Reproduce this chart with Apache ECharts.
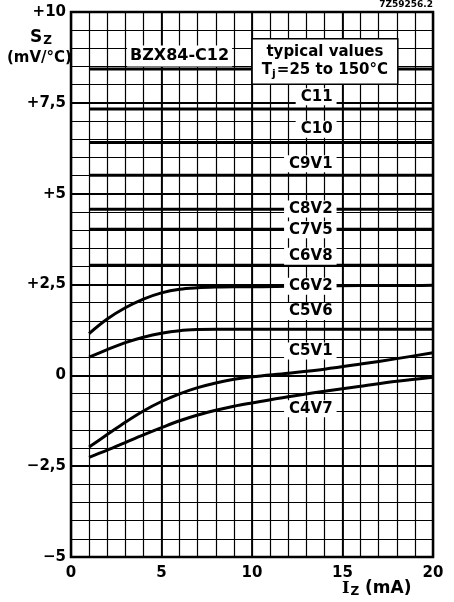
<!DOCTYPE html>
<html>
<head>
<meta charset="utf-8">
<script src="https://cdn.jsdelivr.net/npm/echarts@6/dist/echarts.min.js"></script>
<style>
html,body{margin:0;padding:0;background:#fff;}
#chart{width:454px;height:602px;}
</style>
</head>
<body>
<div id="chart"></div>
<script>
// ---- data ----
const flatCurrents = [1, 20];
const flatNames = ['C12', 'C11', 'C10', 'C9V1', 'C8V2', 'C7V5', 'C6V8'];
const flatValues = [8.43, 7.33, 6.41, 5.51, 4.57, 4.02, 3.03];

const curveCurrents = [1, 2, 3, 4, 5, 6, 7, 8, 9, 10, 12, 14, 16, 18, 20];
const c6v2 = [1.15, 1.55, 1.86, 2.10, 2.27, 2.37, 2.41, 2.43, 2.44, 2.44, 2.45, 2.46, 2.47, 2.47, 2.48];
const c5v6 = [0.50, 0.71, 0.90, 1.05, 1.16, 1.23, 1.26, 1.27, 1.27, 1.27, 1.27, 1.27, 1.27, 1.27, 1.27];
const c5v1 = [-1.97, -1.63, -1.29, -0.98, -0.72, -0.51, -0.34, -0.21, -0.11, -0.04, 0.06, 0.17, 0.31, 0.46, 0.62];
const c4v7 = [-2.26, -2.06, -1.85, -1.64, -1.44, -1.25, -1.09, -0.96, -0.85, -0.76, -0.59, -0.44, -0.30, -0.16, -0.05];

const curveLabels = ['C11', 'C10', 'C9V1', 'C8V2', 'C7V5', 'C6V8', 'C6V2', 'C5V6', 'C5V1', 'C4V7'];
const curveLabelY = [7.67, 6.77, 5.82, 4.58, 4.01, 3.28, 2.45, 1.76, 0.67, -0.92];
const curveLabelX = 14.7;

const typeLabel = 'BZX84-C12';
const typeLabelAt = [6.0, 8.79];
const noteLines = ['typical values', '{n|T}{s|j}{n|=25 to 150°C}'];
const noteAt = [14.03, 8.64];

const xTicks = [0, 5, 10, 15, 20];
const xTickLabels = ['0', '5', '10', '15', '20'];
const yTicks = [-5, -2.5, 0, 2.5, 5, 7.5, 10];
const yTickLabels = ['\u22125', '\u22122,5', '0', '+2,5', '+5', '+7,5', '+10'];

// ---- chart ----
const FONT = 'DejaVu Sans';
const chart = echarts.init(document.getElementById('chart'), null, {renderer: 'canvas'});

function tickText(ticks, labels) {
  return function (v) {
    for (let i = 0; i < ticks.length; i++) if (Math.abs(ticks[i] - v) < 1e-6) return labels[i];
    return '';
  };
}

const lineStyle = {color: '#000', width: 3};
const series = [];
flatNames.forEach(function (n, i) {
  series.push({
    name: n, type: 'line', xAxisIndex: 0, yAxisIndex: 0, showSymbol: false, symbol: 'none',
    lineStyle: lineStyle, z: 3,
    data: flatCurrents.map(function (x) { return [x, flatValues[i]]; })
  });
});
[['C6V2', c6v2], ['C5V6', c5v6], ['C5V1', c5v1], ['C4V7', c4v7]].forEach(function (p) {
  series.push({
    name: p[0], type: 'line', xAxisIndex: 0, yAxisIndex: 0, showSymbol: false, symbol: 'none',
    smooth: 0.35, lineStyle: lineStyle, z: 3,
    data: curveCurrents.map(function (x, k) { return [x, p[1][k]]; })
  });
});

const hiddenItem = {color: 'rgba(0,0,0,0)', opacity: 1};
const labelData = curveLabels.map(function (n, i) {
  return {value: [curveLabelX, curveLabelY[i]], name: n};
});
series.push({
  type: 'scatter', xAxisIndex: 0, yAxisIndex: 0, symbolSize: 1, z: 10,
  itemStyle: hiddenItem, emphasis: {disabled: true},
  label: {
    show: true, position: 'left', distance: 0, formatter: '{b}',
    fontFamily: FONT, fontWeight: 'bold', fontSize: 15, color: '#000', opacity: 1,
    backgroundColor: '#fff', padding: [1, 4, 0, 5], lineHeight: 16
  },
  data: labelData
});
series.push({
  type: 'scatter', xAxisIndex: 0, yAxisIndex: 0, symbolSize: 1, z: 10,
  itemStyle: hiddenItem, emphasis: {disabled: true},
  data: [
    {value: typeLabelAt, name: typeLabel,
     label: {show: true, position: 'inside', formatter: '{b}', fontFamily: FONT, fontWeight: 'bold',
             fontSize: 16, color: '#000', opacity: 1, backgroundColor: '#fff', padding: [3, 3, 2, 3]}},
    {value: noteAt, name: 'note',
     label: {show: true, position: 'inside', formatter: noteLines.join('\n'), align: 'center',
             fontFamily: FONT, fontWeight: 'bold', fontSize: 15, color: '#000', opacity: 1, lineHeight: 18,
             backgroundColor: '#fff', borderColor: '#000', borderWidth: 1.5, padding: [4, 9, 4, 9],
             rich: {
               n: {fontFamily: FONT, fontWeight: 'bold', fontSize: 15, lineHeight: 18, color: '#000'},
               s: {fontFamily: FONT, fontWeight: 'bold', fontSize: 11, color: '#000', verticalAlign: 'bottom', padding: [6, 1, 0, 0], lineHeight: 18}
             }}}
  ]
});

const axisFont = {fontFamily: FONT, fontWeight: 'bold', fontSize: 15, color: '#000'};

chart.setOption({
  animation: false,
  backgroundColor: '#fff',
  grid: {left: 71, right: 21, top: 12, bottom: 45, show: true, borderColor: '#000', borderWidth: 2.5, backgroundColor: '#fff'},
  xAxis: [
    {type: 'value', min: 0, max: 20, interval: 1, axisLine: {show: false}, axisTick: {show: false},
     axisLabel: {show: false}, splitLine: {show: true, lineStyle: {color: '#000', width: 1.2}}},
    {type: 'value', min: 0, max: 20, interval: 5, position: 'bottom', axisLine: {show: false}, axisTick: {show: false},
     axisLabel: Object.assign({show: true, margin: 9, formatter: tickText(xTicks, xTickLabels)}, axisFont),
     splitLine: {show: true, lineStyle: {color: '#000', width: 1.8}}}
  ],
  yAxis: [
    {type: 'value', min: -5, max: 10, interval: 0.5, axisLine: {show: false}, axisTick: {show: false},
     axisLabel: {show: false}, splitLine: {show: true, lineStyle: {color: '#000', width: 1.2}}},
    {type: 'value', min: -5, max: 10, interval: 2.5, position: 'left', axisLine: {show: false}, axisTick: {show: false},
     axisLabel: Object.assign({show: true, margin: 5, formatter: tickText(yTicks, yTickLabels)}, axisFont),
     splitLine: {show: true, lineStyle: {color: '#000', width: 1.8}}}
  ],
  graphic: [
    {type: 'text', left: 30, top: 29, z: 20, style: {
      text: '{a|S}{b|Z}', fill: '#000',
      rich: {a: {fontFamily: FONT, fontWeight: 'bold', fontSize: 17, fill: '#000'},
             b: {fontFamily: FONT, fontWeight: 'bold', fontSize: 12, fill: '#000', padding: [7, 0, 0, 1]}}}},
    {type: 'text', left: 7, top: 51, z: 20, style: {text: '(mV/°C)', fontFamily: FONT, fontWeight: 'bold', fontSize: 15, fill: '#000'}},
    {type: 'text', left: 342, top: 580, z: 20, style: {
      text: '{i|I}{b|Z}{a| (mA)}', fill: '#000',
      rich: {i: {fontFamily: 'DejaVu Serif', fontWeight: 'bold', fontSize: 16, fill: '#000'},
             a: {fontFamily: FONT, fontWeight: 'bold', fontSize: 17, fill: '#000'},
             b: {fontFamily: FONT, fontWeight: 'bold', fontSize: 12, fill: '#000', padding: [6, 0, 0, 1]}}}},
    {type: 'text', right: 21, top: 0, z: 20, style: {text: '7Z59256.2', fontFamily: FONT, fontWeight: 'bold', fontSize: 9, fill: '#000'}}
  ],
  series: series
});
</script>
</body>
</html>
